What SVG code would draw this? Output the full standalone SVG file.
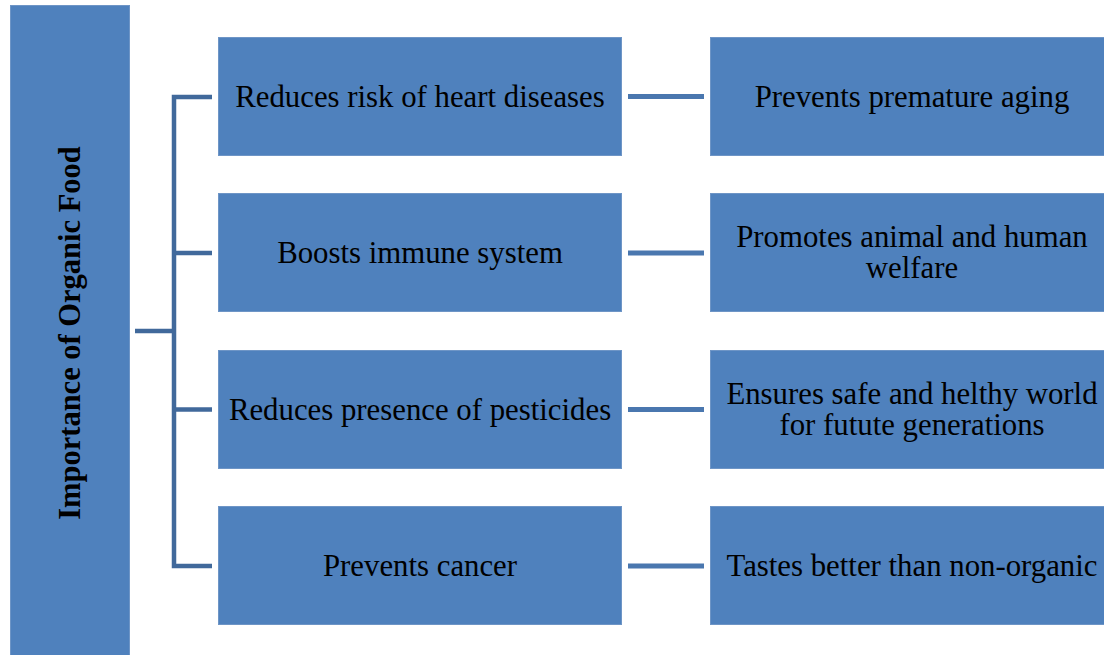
<svg xmlns="http://www.w3.org/2000/svg" width="1104" height="655" viewBox="0 0 1104 655">
<style>
.box{fill:#4F81BD;stroke:#6E95C6;stroke-width:1}
.t{font-family:"Liberation Serif","Times New Roman",serif;font-size:30.8px;fill:#000;text-anchor:middle}
.tb{font-family:"Liberation Serif","Times New Roman",serif;font-size:30.5px;font-weight:bold;fill:#000;text-anchor:middle}
.br{fill:none;stroke:#41699B;stroke-width:4.5}
.cn{fill:none;stroke:#4A77AF;stroke-width:5}
</style>
<rect width="1104" height="655" fill="#fff"/>
<g id="connectors">
<path class="br" d="M135 331 H174"/>
<path class="br" d="M212 97 H174 V566 H212"/>
<path class="br" d="M174 253 H212"/>
<path class="br" d="M174 409.5 H212"/>
<path class="cn" d="M628 96.5 H704"/>
<path class="cn" d="M628 253 H704"/>
<path class="cn" d="M628 409.5 H704"/>
<path class="cn" d="M628 566 H704"/>
</g>
<g id="root">
<rect class="box" x="10.5" y="5.5" width="119" height="650"/>
<text class="tb" transform="translate(80,333) rotate(-90)">Importance of Organic Food</text>
</g>
<g id="a1"><rect class="box" x="218.5" y="37.5" width="403" height="118"/><text class="t" x="420" y="107">Reduces risk of heart diseases</text></g>
<g id="a2"><rect class="box" x="218.5" y="193.5" width="403" height="118"/><text class="t" x="420" y="263">Boosts immune system</text></g>
<g id="a3"><rect class="box" x="218.5" y="350.5" width="403" height="118"/><text class="t" x="420" y="420">Reduces presence of pesticides</text></g>
<g id="a4"><rect class="box" x="218.5" y="506.5" width="403" height="118"/><text class="t" x="420" y="576">Prevents cancer</text></g>
<g id="b1"><rect class="box" x="710.5" y="37.5" width="394" height="118"/><text class="t" x="912" y="107">Prevents premature aging</text></g>
<g id="b2"><rect class="box" x="710.5" y="193.5" width="394" height="118"/><text class="t" x="912" y="247">Promotes animal and human</text><text class="t" x="912" y="278">welfare</text></g>
<g id="b3"><rect class="box" x="710.5" y="350.5" width="394" height="118"/><text class="t" x="912" y="404">Ensures safe and helthy world</text><text class="t" x="912" y="435">for futute generations</text></g>
<g id="b4"><rect class="box" x="710.5" y="506.5" width="394" height="118"/><text class="t" x="912" y="576">Tastes better than non-organic</text></g>
</svg>
